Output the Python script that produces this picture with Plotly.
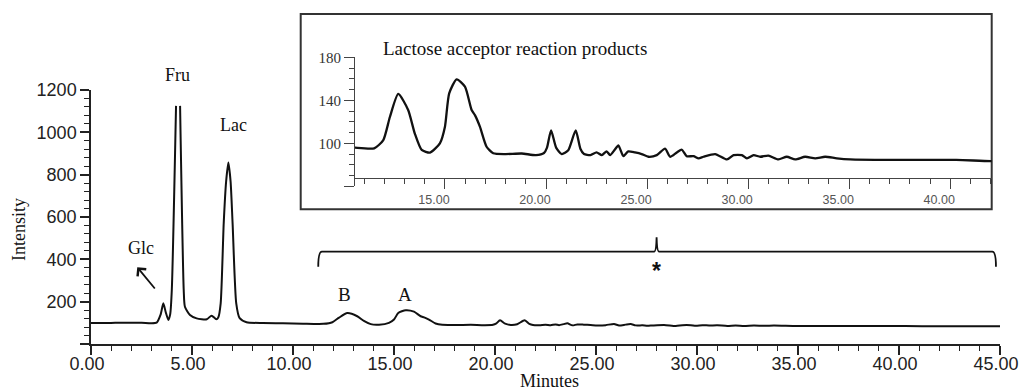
import plotly.graph_objects as go

W, H = 1020, 392

# ---- chromatogram data (minutes, intensity) ----
time_min = [0.0, 0.8, 1.2, 2.5, 3.25, 3.45, 3.58, 3.7, 3.83, 3.92, 4.0, 4.21, None,
            4.41, 4.59, 4.65, 4.9, 5.23, 5.73, 5.97, 6.2, 6.3, 6.42, 6.57, 6.69, 6.80,
            6.91, 7.01, 7.19, 7.36, 7.7, 8.5, 9.5, 10.5, 11.5, 11.95, 12.28, 12.69,
            13.18, 13.51, 13.85, 14.26, 14.75, 15.0, 15.21, 15.58, 15.99, 16.32, 16.49,
            16.73, 17.06, 17.39, 18.0, 18.8, 19.5, 19.9, 20.05, 20.25, 20.5, 20.78, 21.1,
            21.47, 21.7, 21.88, 22.2, 22.5, 22.76, 23.0, 23.17, 23.4, 23.58, 23.83, 24.07,
            24.4, 24.73, 25.07, 25.48, 25.89, 26.14, 26.47, 26.72, 26.96, 27.3, 27.55,
            27.79, 28.37, 28.95, 29.28, 29.69, 29.94, 30.27, 30.6, 31.0, 31.5, 31.91,
            32.33, 32.82, 33.32, 33.81, 34.39, 35.05, 37.0, 40.3, 42.0, 45.0]
intensity = [99, 99, 100, 100, 101, 140, 192, 150, 113, 140, 255, 1125, None,
             1125, 255, 176, 137, 121, 117, 134, 117, 125, 192, 570, 768, 857,
             768, 570, 192, 122, 103, 99, 98, 96, 95.3, 103, 124.7, 145.9,
             131, 109, 93.8, 91.3, 100, 115.5, 146.5, 159.5, 152.7, 131, 126,
             115.5, 96.8, 90.7, 90, 90.5, 89, 91, 96, 112, 96, 90, 93.5,
             112, 95, 90, 89, 91.5, 89, 92.5, 89, 94, 98, 88, 92.5,
             91.5, 90, 87.5, 89, 95, 87.5, 91.5, 94, 88, 88, 86,
             87.5, 90, 85, 89, 89, 86, 89, 87.5, 88.5, 85, 87.5,
             85, 87.5, 86, 87.5, 86, 85, 84.5, 84.5, 83.5, 83.5]

main_y_ticks = [0, 200, 400, 600, 800, 1000, 1200]
main_y_labels = ["", "200", "400", "600", "800", "1000", "1200"]
inset_y_ticks = [60, 100, 140, 180]
inset_y_labels = ["", "100", "140", "180"]

peak_labels = ["Fru", "Lac", "Glc", "B", "A"]
peak_times = [4.3, 7.04, 2.46, 12.53, 15.56]

# brace over the region shown in the inset
BR_X0, BR_X1, BR_MID = 11.25, 44.8, 28.0
BR_Y, BR_END, BR_TIP = 436, 365, 504

SERIF = "Liberation Serif"
SANS = "Liberation Sans"


def px_x(p):
    return p / W


def px_y(p):
    return 1 - p / H


fig = go.Figure()
line_style = dict(color="#111", width=2, shape="spline", smoothing=0.6)
fig.add_trace(go.Scatter(x=time_min, y=intensity, mode="lines", line=line_style,
                         connectgaps=False, showlegend=False, hoverinfo="skip"))
fig.add_trace(go.Scatter(x=time_min, y=intensity, mode="lines",
                         line=dict(line_style, width=2.3),
                         connectgaps=False, showlegend=False, hoverinfo="skip",
                         xaxis="x2", yaxis="y2"))

axis_col = "#222"
fig.update_layout(
    width=W, height=H, autosize=False,
    margin=dict(l=0, r=0, t=0, b=0, pad=0, autoexpand=False),
    paper_bgcolor="white", plot_bgcolor="rgba(0,0,0,0)",
    xaxis=dict(domain=[px_x(91), px_x(1000)], range=[0, 45], anchor="y",
               tickmode="linear", tick0=0, dtick=5, tickformat=".2f",
               ticks="outside", ticklen=9, tickwidth=1.5, tickcolor=axis_col,
               minor=dict(tickmode="linear", tick0=0, dtick=1, ticks="outside",
                          ticklen=5, tickwidth=1.2, tickcolor=axis_col),
               showline=True, linecolor=axis_col, linewidth=1.5,
               showgrid=False, zeroline=False, ticklabelshift=-4, ticklabelstandoff=-6,
               automargin=False,
               tickfont=dict(family=SANS, size=18, color="#222")),
    yaxis=dict(domain=[px_y(344), px_y(90)], range=[0, 1200], anchor="x",
               tickmode="array", tickvals=main_y_ticks, ticktext=main_y_labels,
               ticks="outside", ticklen=9, tickwidth=1.5, tickcolor=axis_col,
               minor=dict(tickmode="linear", tick0=0, dtick=40, ticks="outside",
                          ticklen=5, tickwidth=1.2, tickcolor=axis_col),
               showline=True, linecolor=axis_col, linewidth=1.5,
               showgrid=False, zeroline=False, ticklabelstandoff=0, automargin=False,
               tickfont=dict(family=SANS, size=18, color="#222")),
    xaxis2=dict(domain=[px_x(355), px_x(991.7)], range=[10.55, 42.05],
                anchor="free", position=px_y(178.3),
                tickmode="linear", tick0=0, dtick=5, tickformat=".2f",
                ticks="outside", ticklen=10, tickwidth=1.2, tickcolor="#444",
                minor=dict(tickmode="linear", tick0=0, dtick=1, ticks="outside",
                           ticklen=5, tickwidth=1.2, tickcolor="#444"),
                showline=True, linecolor="#444", linewidth=1.2, automargin=False,
                showgrid=False, zeroline=False, ticklabelshift=-11,
                tickfont=dict(family=SANS, size=12.5, color="#555")),
    yaxis2=dict(domain=[px_y(186.3), px_y(57.3)], range=[60, 180], anchor="x2",
                tickmode="array", tickvals=inset_y_ticks, ticktext=inset_y_labels,
                ticks="outside", ticklen=10, tickwidth=1.2, tickcolor="#444",
                minor=dict(tickmode="linear", tick0=60, dtick=10, ticks="outside",
                           ticklen=5, tickwidth=1.2, tickcolor="#444"),
                showline=True, linecolor="#444", linewidth=1.2, automargin=False,
                showgrid=False, zeroline=False,
                tickfont=dict(family=SERIF, size=15, color="#333")),
)

# inset frame
fig.add_shape(type="rect", xref="paper", yref="paper",
              x0=px_x(300.7), x1=px_x(991.7), y0=px_y(209.3), y1=px_y(14),
              line=dict(color="#333", width=2), fillcolor="rgba(0,0,0,0)", layer="below")

# brace
r = 0.18
path = (f"M {BR_X0},{BR_END} Q {BR_X0},{BR_Y} {BR_X0 + r},{BR_Y} "
        f"L {BR_MID - 0.12},{BR_Y} Q {BR_MID - 0.02},{BR_Y} {BR_MID},{BR_TIP} "
        f"Q {BR_MID + 0.02},{BR_Y} {BR_MID + 0.12},{BR_Y} "
        f"L {BR_X1 - r},{BR_Y} Q {BR_X1},{BR_Y} {BR_X1},{BR_END}")
fig.add_shape(type="path", xref="x", yref="y", path=path,
              line=dict(color="#111", width=1.8))

lab_font = dict(family=SERIF, size=18, color="#111")
mid = dict(xanchor="center", yanchor="middle", showarrow=False)
# Fru (above plot area), Lac, Glc, B, A
fig.add_annotation(x=peak_times[0], y=px_y(75), xref="x", yref="paper",
                   text=peak_labels[0], font=lab_font, **mid)
fig.add_annotation(x=peak_times[1], y=1035, xref="x", yref="y",
                   text=peak_labels[1], font=lab_font, **mid)
fig.add_annotation(x=peak_times[2], y=452, xref="x", yref="y",
                   text=peak_labels[2], font=lab_font, **mid)
fig.add_annotation(x=peak_times[3], y=232, xref="x", yref="y",
                   text=peak_labels[3], font=dict(family=SERIF, size=19, color="#111"), **mid)
fig.add_annotation(x=peak_times[4], y=232, xref="x", yref="y",
                   text=peak_labels[4], font=dict(family=SERIF, size=19, color="#111"), **mid)
# Glc arrow
fig.add_annotation(x=2.29, y=363, xref="x", yref="y", ax=3.22, ay=255,
                   axref="x", ayref="y", text="", showarrow=True,
                   arrowhead=4, arrowsize=1.2, arrowwidth=1.8, arrowcolor="#111")
# asterisk
fig.add_annotation(x=BR_MID, y=345, xref="x", yref="y", text="<b>*</b>",
                   font=dict(family=SANS, size=23, color="#111"), **mid)

# axis titles
fig.add_annotation(x=px_x(19), y=px_y(230), xref="paper", yref="paper",
                   text="Intensity", textangle=-90, font=lab_font, **mid)
fig.add_annotation(x=px_x(549), y=px_y(381), xref="paper", yref="paper",
                   text="Minutes", font=lab_font, **mid)
# inset title
fig.add_annotation(x=px_x(381), y=px_y(48), xref="paper", yref="paper",
                   xanchor="left", yanchor="middle", showarrow=False,
                   text="Lactose acceptor reaction products",
                   font=dict(family=SERIF, size=19, color="#111"))

fig.write_html("out.html")
